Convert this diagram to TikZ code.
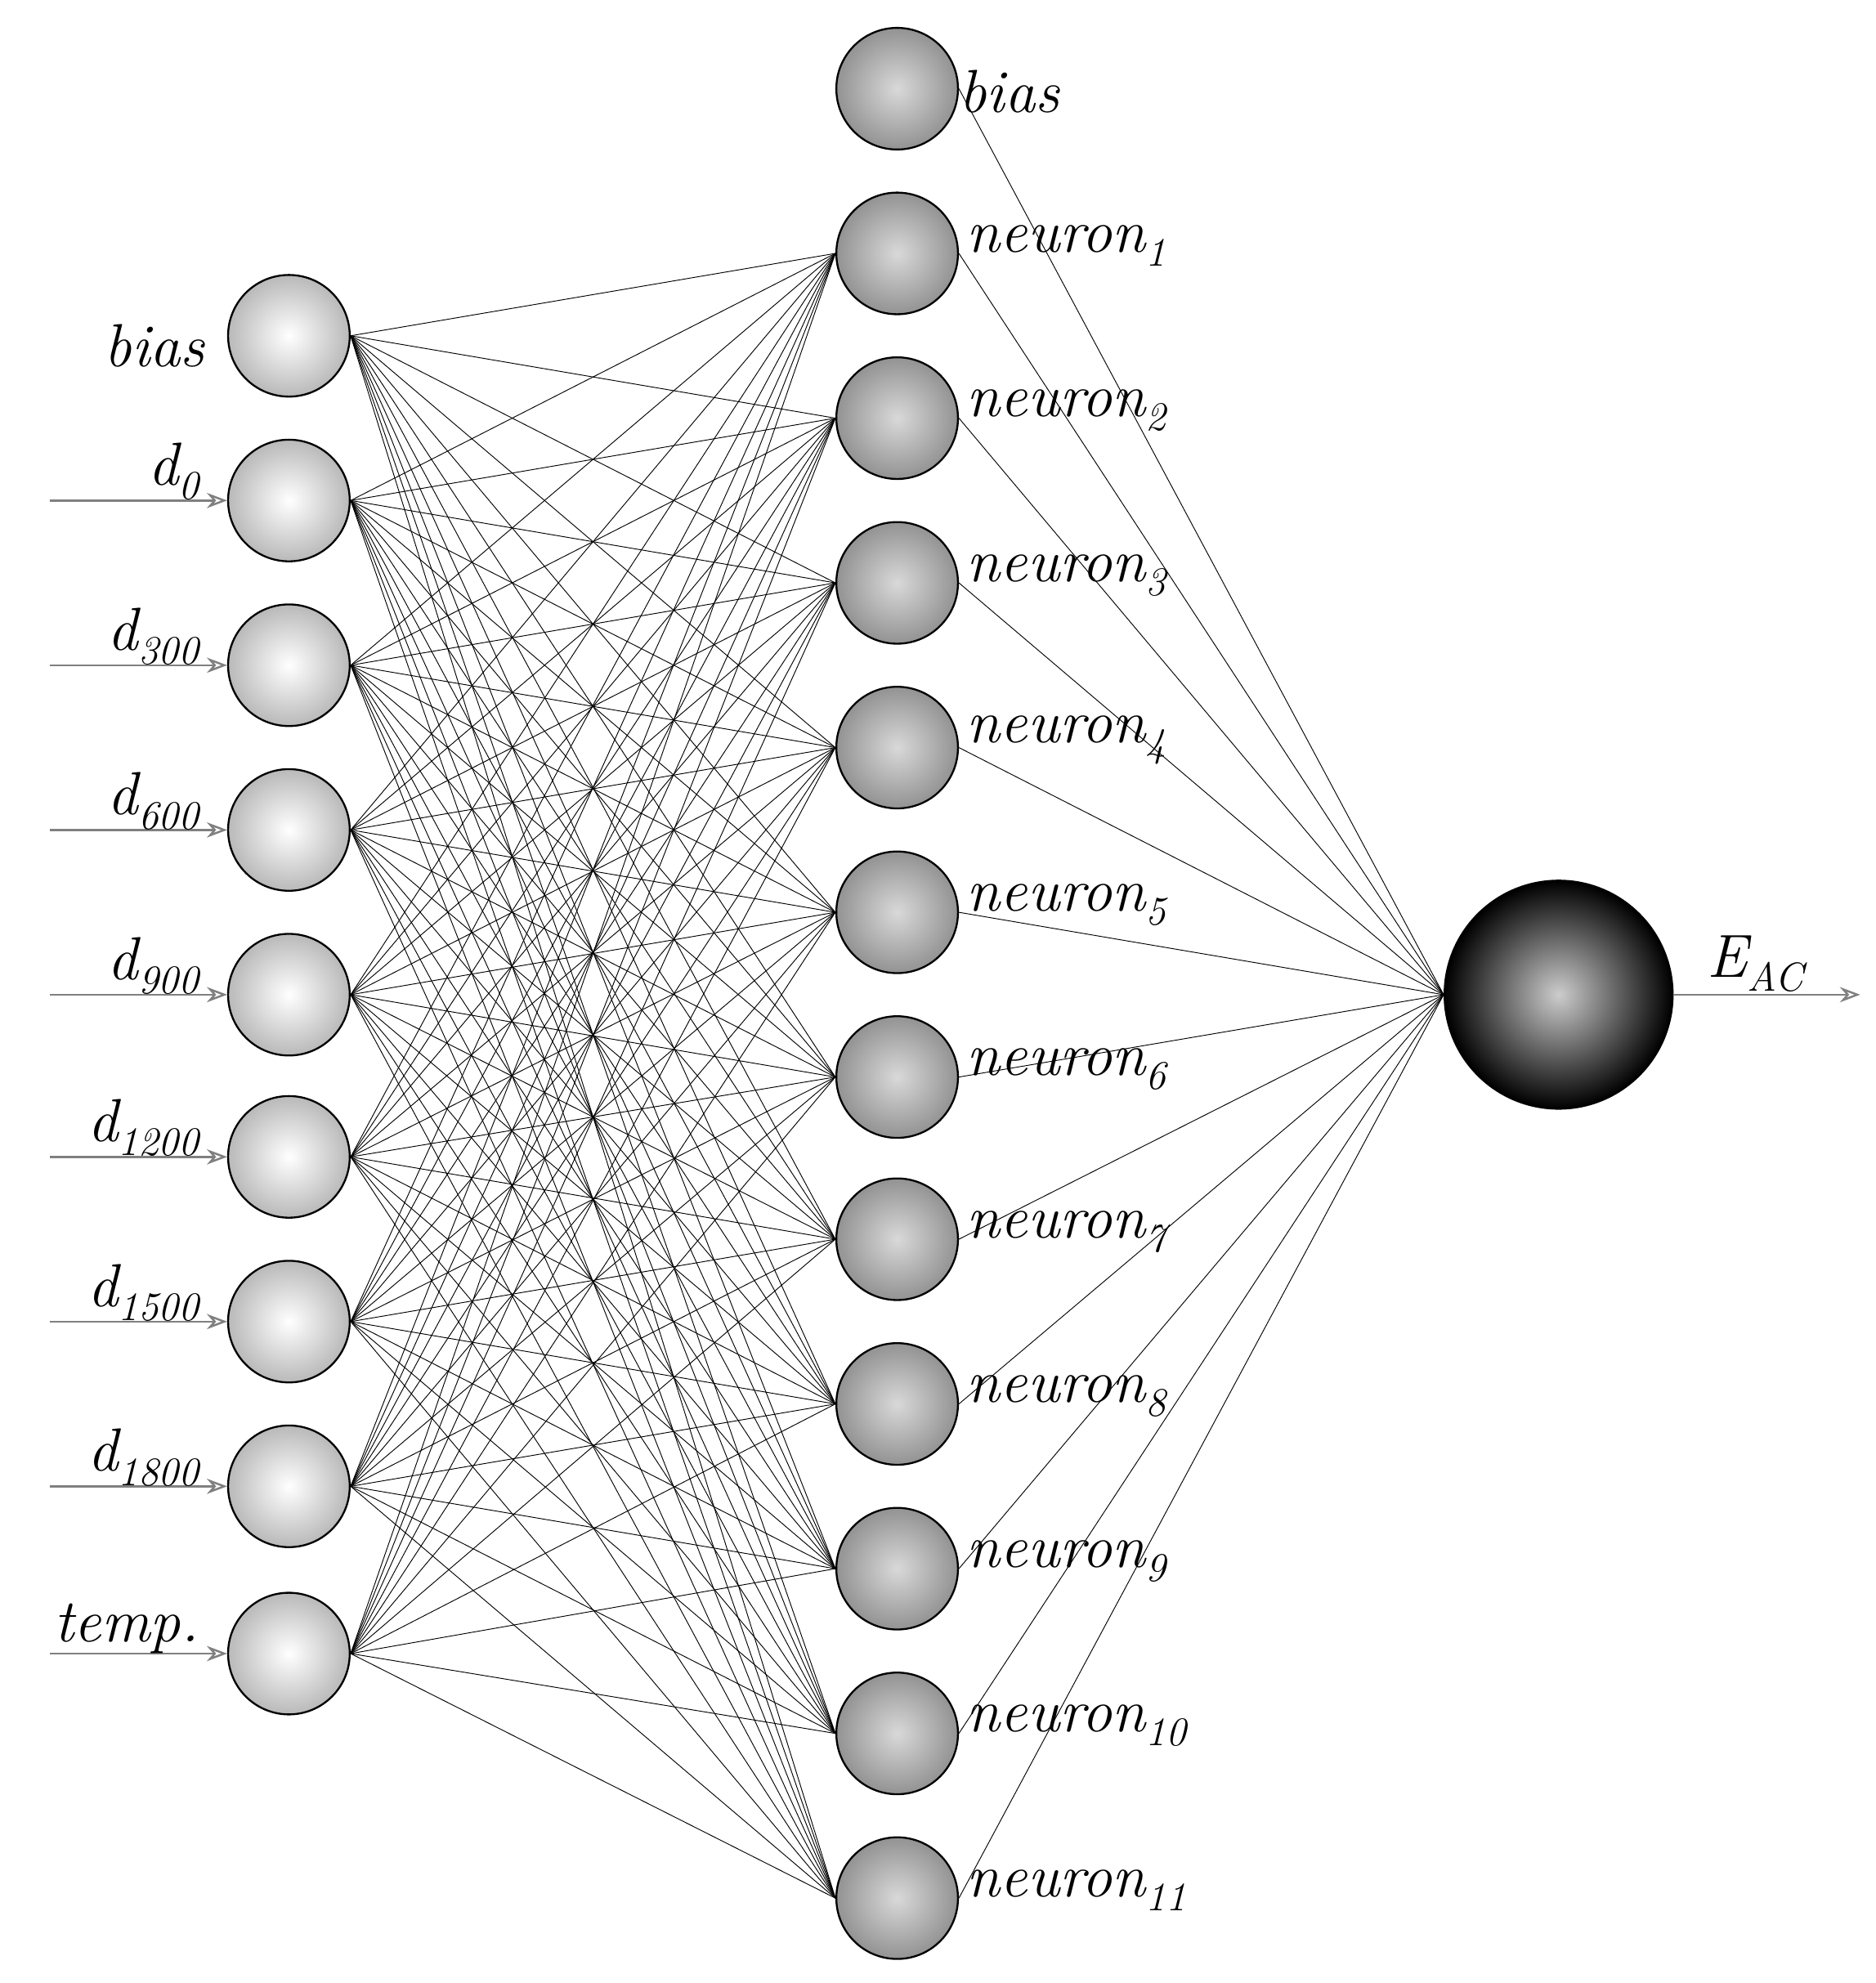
\documentclass[tikz,border=0pt]{standalone}
\usetikzlibrary{arrows.meta}
\newcommand{\lsub}[1]{\raisebox{-11pt}{\fontsize{32}{34}\selectfont\itshape #1}}
\begin{document}
\begin{tikzpicture}[x=1pt,y=-1pt,
  inball/.style={circle,draw=black,line width=1.5pt,minimum size=96pt,inner sep=0pt,inner color=white,outer color=gray!55},
  hidball/.style={circle,draw=black,line width=1.5pt,minimum size=96pt,inner sep=0pt,inner color=gray!30,outer color=gray!85},
  outball/.style={circle,draw=black,line width=1.5pt,minimum size=180pt,inner sep=0pt,inner color=gray!40,outer color=black},
  lbl/.style={font=\fontsize{48}{50}\selectfont\itshape},
  wire/.style={line width=0.6pt},
  inarrow/.style={gray,line width=1.6pt,-{Stealth[open,length=16pt,width=12pt]}}]
\useasboundingbox (0,0) rectangle (1480,1565);
\foreach \n/\y in {0/265,1/395,2/525,3/655,4/785,5/913,6/1043,7/1173,8/1305}
  \node[inball] (i\n) at (228,\y) {};
\node[hidball] (hb) at (708,70) {};
\foreach \n/\y in {1/200,2/330,3/460,4/590,5/720,6/850,7/978,8/1108,9/1238,10/1368,11/1498}
  \node[hidball] (h\n) at (708,\y) {};
\node[outball] (o) at (1230,785) {};
\foreach \a in {0,...,8}
  \foreach \b in {1,...,11}
    \draw[wire] (i\a.east) -- (h\b.west);
\foreach \b in {1,...,11}
  \draw[wire] (h\b.east) -- (o.west);
\draw[wire] (hb.east) -- (o.west);
\foreach \n/\t in {1/{d\lsub{0}},2/{d\lsub{300}},3/{d\lsub{600}},4/{d\lsub{900}},5/{d\lsub{1200}},6/{d\lsub{1500}},7/{d\lsub{1800}},8/{temp.}}{
  \coordinate (s\n) at ([xshift=-140pt]i\n.west);
  \draw[inarrow] (s\n) -- (i\n.west);
  \node[lbl,anchor=south east,inner sep=2pt] (l\n) at ([xshift=-20pt,yshift=-2pt]i\n.west) {\t};
}
\node[lbl,anchor=east] (lb) at ([xshift=-14pt,yshift=-8pt]i0.west) {bias};
\node[lbl,anchor=west,inner sep=0pt] (lhb) at ([yshift=-2pt]hb.east) {bias};
\foreach \b in {1,...,11}
  \node[lbl,anchor=west,inner sep=0pt] (lh\b) at ([xshift=6pt,yshift=6pt]h\b.east) {neuron\lsub{\b}};
\coordinate (oe) at (1468,785);
\draw[inarrow] (o.east) -- (oe);
\node[lbl,anchor=south,inner sep=2pt] (lo) at (1385,785) {E\lsub{AC}};
\end{tikzpicture}
\end{document}
